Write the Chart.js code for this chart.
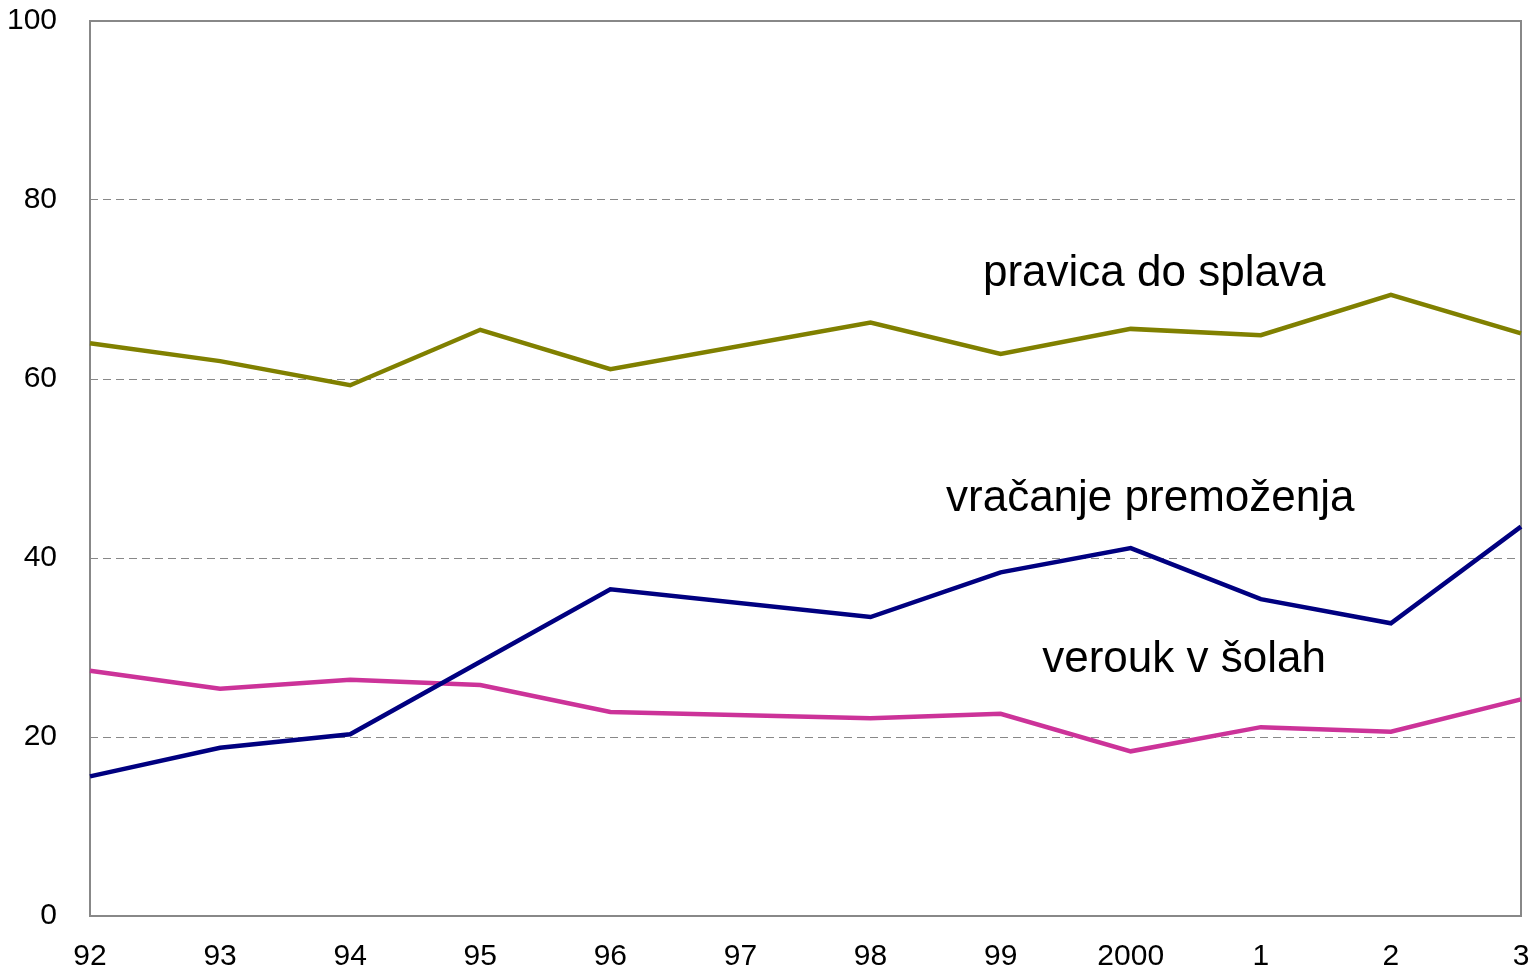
<!DOCTYPE html>
<html>
<head>
<meta charset="utf-8">
<script src="https://cdn.jsdelivr.net/npm/chart.js@4/dist/chart.umd.min.js"></script>
<style>
    html, body{margin:0; padding:0; background:#fff;}
    #wrap{width:1534px; height:970px;}
</style>
</head>
<body>
<div id="wrap"><canvas id="myChart" width="1534" height="970"></canvas></div>
<script>
    // podatki (odčitano s slike), 97 manjka
    var years = ['92', '93', '94', '95', '96', '97', '98', '99', '2000', '1', '2', '3'];
    var splav = [64.0, 62.0, 59.3, 65.5, 61.1, null, 66.3, 62.8, 65.6, 64.9, 69.4, 65.1];
    var premozenje = [15.6, 18.8, 20.3, 28.4, 36.5, null, 33.4, 38.4, 41.1, 35.4, 32.7, 43.5];
    var verouk = [27.4, 25.4, 26.4, 25.8, 22.8, null, 22.1, 22.6, 18.4, 21.1, 20.6, 24.2];
    var yTicks = [0, 20, 40, 60, 80, 100];

    // napisi ob črtah: [besedilo, x (indeks), y (vrednost)]
    var notes = [
        ['pravica do splava', 8.18, 71.7],
        ['vračanje premoženja', 8.15, 46.6],
        ['verouk v šolah', 8.41, 28.6]
    ];

    var fontFam = '"Liberation Sans", Arial, sans-serif';

    var framePlugin = {
        id: 'frame',
        beforeDatasetsDraw: function(chart){
            var a = chart.chartArea, ctx = chart.ctx;
            ctx.save();
            ctx.strokeStyle = '#888';
            ctx.lineWidth = 2;
            ctx.strokeRect(a.left, a.top, a.right - a.left, a.bottom - a.top);
            ctx.restore();
        },
        afterDatasetsDraw: function(chart){
            var ctx = chart.ctx, sx = chart.scales.x, sy = chart.scales.y;
            ctx.save();
            ctx.fillStyle = '#000';
            ctx.font = '44px ' + fontFam;
            ctx.textAlign = 'center';
            ctx.textBaseline = 'middle';
            for(var i = 0; i < notes.length; i++){
                ctx.fillText(notes[i][0], sx.getPixelForValue(notes[i][1]), sy.getPixelForValue(notes[i][2]));
            }
            ctx.restore();
        }
    };

    function ds(data, color){
        return {
            data: data,
            borderColor: color,
            backgroundColor: color,
            borderWidth: 4.5,
            pointRadius: 0,
            tension: 0,
            spanGaps: true,
            fill: false
        };
    }

    new Chart(document.getElementById('myChart').getContext('2d'), {
        type: 'line',
        data: {
            labels: years,
            datasets: [
                ds(splav, '#808000'),
                ds(premozenje, '#000080'),
                ds(verouk, '#CC3399')
            ]
        },
        options: {
            responsive: false,
            animation: false,
            layout: {padding: {left: 0, right: 13, top: 21, bottom: 0}},
            plugins: {legend: {display: false}, tooltip: {enabled: false}},
            scales: {
                x: {
                    offset: false,
                    grid: {display: false, drawTicks: false},
                    border: {display: false},
                    ticks: {color: '#000', font: {family: fontFam, size: 30}, padding: 23, maxRotation: 0, autoSkip: false},
                    afterFit: function(s){ s.height = 54; s.paddingLeft = 0; s.paddingRight = 0; }
                },
                y: {
                    min: 0, max: 100,
                    afterBuildTicks: function(s){ s.ticks = yTicks.map(function(v){ return {value: v}; }); },
                    grid: {color: '#888', lineWidth: 1, drawTicks: false},
                    border: {display: false, dash: [8, 5]},
                    ticks: {color: '#000', font: {family: fontFam, size: 30}, padding: 33},
                    afterFit: function(s){ s.width = 90; s.paddingTop = 0; s.paddingBottom = 0; }
                }
            }
        },
        plugins: [framePlugin]
    });
</script>
</body>
</html>
